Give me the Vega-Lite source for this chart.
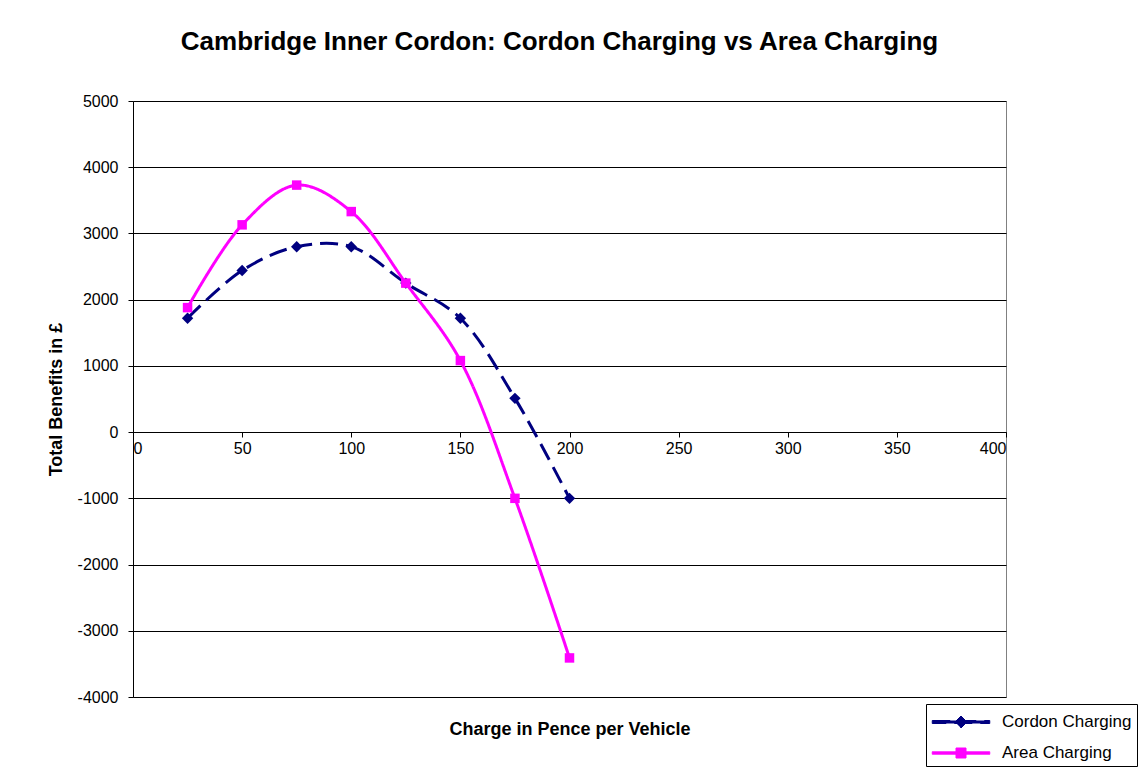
{
  "$schema": "https://vega.github.io/schema/vega-lite/v6.json",
  "width": 873,
  "height": 596,
  "autosize": "none",
  "padding": {"left": 133, "top": 101, "right": 133, "bottom": 84},
  "background": "#ffffff",
  "title": {
    "text": "Cambridge Inner Cordon: Cordon Charging vs Area Charging",
    "font": "Liberation Sans",
    "fontSize": 26,
    "fontWeight": "bold",
    "color": "#000000",
    "anchor": "middle",
    "baseline": "middle",
    "offset": 25,
    "dx": -10
  },
  "config": {
    "view": {"stroke": "#808080", "strokeWidth": 1},
    "axis": {
      "labelFont": "Liberation Sans",
      "titleFont": "Liberation Sans",
      "labelColor": "#000000",
      "titleColor": "#000000",
      "domainColor": "#000000",
      "tickColor": "#000000",
      "labelFontSize": 16,
      "titleFontSize": 18,
      "titleFontWeight": "bold"
    }
  },
  "data": {
    "values": [
      {"charge": 25, "benefit": 1720, "series": "Cordon Charging"},
      {"charge": 50, "benefit": 2440, "series": "Cordon Charging"},
      {"charge": 75, "benefit": 2800, "series": "Cordon Charging"},
      {"charge": 100, "benefit": 2800, "series": "Cordon Charging"},
      {"charge": 125, "benefit": 2250, "series": "Cordon Charging"},
      {"charge": 150, "benefit": 1720, "series": "Cordon Charging"},
      {"charge": 175, "benefit": 510, "series": "Cordon Charging"},
      {"charge": 200, "benefit": -1000, "series": "Cordon Charging"},
      {"charge": 25, "benefit": 1880, "series": "Area Charging"},
      {"charge": 50, "benefit": 3130, "series": "Area Charging"},
      {"charge": 75, "benefit": 3730, "series": "Area Charging"},
      {"charge": 100, "benefit": 3330, "series": "Area Charging"},
      {"charge": 125, "benefit": 2250, "series": "Area Charging"},
      {"charge": 150, "benefit": 1080, "series": "Area Charging"},
      {"charge": 175, "benefit": -1000, "series": "Area Charging"},
      {"charge": 200, "benefit": -3410, "series": "Area Charging"}
    ]
  },
  "encoding": {
    "x": {
      "field": "charge",
      "type": "quantitative",
      "scale": {"domain": [0, 400], "nice": false, "zero": false},
      "axis": {
        "values": [0, 50, 100, 150, 200, 250, 300, 350, 400],
        "grid": false,
        "offset": -265,
        "tickSize": 5,
        "labelPadding": 3,
        "title": "Charge in Pence per Vehicle",
        "titleBaseline": "middle",
        "titleY": 297,
        "titleFontSize": 18
      }
    },
    "y": {
      "field": "benefit",
      "type": "quantitative",
      "scale": {"domain": [-4000, 5000], "nice": false, "zero": false},
      "axis": {
        "values": [-4000, -3000, -2000, -1000, 0, 1000, 2000, 3000, 4000, 5000],
        "labelExpr": "'' + datum.value",
        "grid": true,
        "gridColor": "#000000",
        "gridOpacity": 1,
        "gridWidth": 1,
        "tickSize": 5,
        "labelPadding": 10,
        "title": "Total Benefits in £",
        "titlePadding": 12
      }
    },
    "color": {
      "field": "series",
      "type": "nominal",
      "scale": {"domain": ["Cordon Charging", "Area Charging"], "range": ["#000080", "#FF00FF"]},
      "legend": {
        "orient": "none",
        "legendX": 793,
        "legendY": 603,
        "title": null,
        "strokeColor": "#000000",
        "fillColor": "#ffffff",
        "padding": 5,
        "symbolSize": 625,
        "symbolStrokeWidth": 1,
        "symbolOffset": 17,
        "labelOffset": 28,
        "labelFont": "Liberation Sans",
        "labelFontSize": 17,
        "labelColor": "#000000",
        "rowPadding": 10,
        "encode": {
          "symbols": {
            "update": {
              "shape": {"signal": "datum.value === 'Cordon Charging' ? 'M-2.3,-0.12L2.3,-0.12L2.3,0.12L-2.3,0.12ZM0,-0.48L0.48,0L0,0.48L-0.48,0Z' : 'M-2.3,-0.1L2.3,-0.1L2.3,0.1L-2.3,0.1ZM-0.4,-0.4L0.4,-0.4L0.4,0.4L-0.4,0.4Z'"},
              "size": {"value": 625},
              "fill": {"signal": "datum.value === 'Cordon Charging' ? '#000080' : '#FF00FF'"},
              "stroke": {"signal": "datum.value === 'Cordon Charging' ? '#000080' : '#FF00FF'"},
              "strokeWidth": {"value": 1},
              "fillOpacity": {"value": 1},
              "strokeOpacity": {"value": 1},
              "strokeDash": {"value": []},
              "opacity": {"value": 1}
            }
          }
        }
      }
    }
  },
  "layer": [
    {
      "mark": {"type": "line", "interpolate": "catmull-rom", "strokeWidth": 3},
      "encoding": {
        "strokeDash": {
          "field": "series",
          "type": "nominal",
          "scale": {"domain": ["Cordon Charging", "Area Charging"], "range": [[18, 8], [1, 0]]},
          "legend": null
        }
      }
    },
    {
      "transform": [{"filter": "datum.series === 'Cordon Charging'"}],
      "mark": {"type": "point", "filled": true, "opacity": 1, "shape": "diamond", "size": 130}
    },
    {
      "transform": [{"filter": "datum.series === 'Area Charging'"}],
      "mark": {"type": "point", "filled": true, "opacity": 1, "shape": "square", "size": 90}
    }
  ]
}
